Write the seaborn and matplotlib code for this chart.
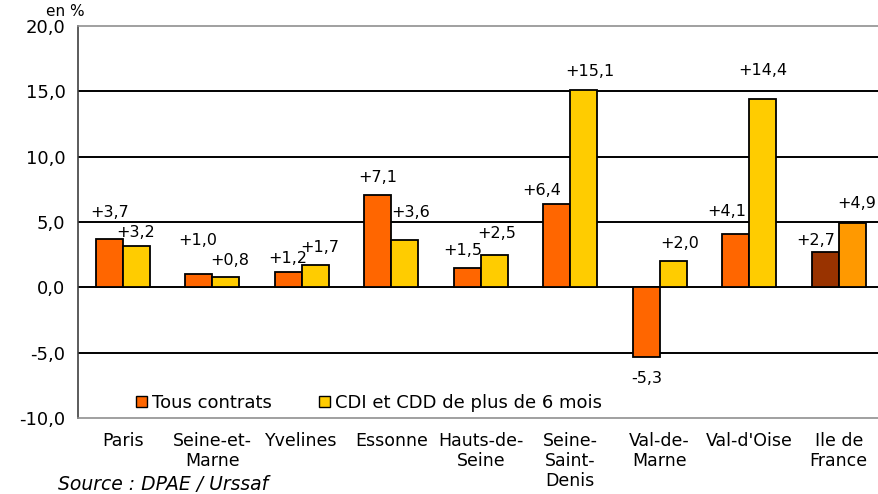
import pandas as pd
import matplotlib
matplotlib.use("Agg")
import matplotlib.pyplot as plt
import seaborn as sns
from matplotlib.patches import Patch

# données
departements = ["Paris", "Seine-et-\nMarne", "Yvelines", "Essonne", "Hauts-de-\nSeine",
                "Seine-\nSaint-\nDenis", "Val-de-\nMarne", "Val-d'Oise", "Ile de\nFrance"]
tous_contrats = [3.7, 1.0, 1.2, 7.1, 1.5, 6.4, -5.3, 4.1, 2.7]
cdi_cdd = [3.2, 0.8, 1.7, 3.6, 2.5, 15.1, 2.0, 14.4, 4.9]
series = ["Tous contrats", "CDI et CDD de plus de 6 mois"]
yticks = [-10, -5, 0, 5, 10, 15, 20]

# décalage des étiquettes (pixels, par rapport au haut de la barre)
decal_tous = [(0, 27), (-1, 34), (-1, 13), (0, 17), (-5, 17), (-15, 13), (0, -22), (-9, 22), (-10, 12)]
decal_cdi = [(-1, 13), (4, 16), (5, 18), (6, 28), (3, 21), (6, 19), (7, 18), (0, 29), (5, 20)]

df = pd.DataFrame({
    "dep": departements * 2,
    "serie": [series[0]] * len(departements) + [series[1]] * len(departements),
    "val": tous_contrats + cdi_cdd,
})

sns.set_style("white")
plt.rcParams['font.family'] = ['DejaVu Sans']
plt.rcParams['text.color'] = 'black'
plt.rcParams['xtick.color'] = 'black'
plt.rcParams['ytick.color'] = 'black'

fig = plt.figure(figsize=(8.79, 4.94), dpi=100)
ax = fig.add_axes([0.0887, 0.1538, 0.9164, 0.7935])

colors = ["#FF6600", "#FFCC00"]
sns.barplot(data=df, x="dep", y="val", hue="serie", palette=colors, width=0.6,
            edgecolor="black", linewidth=1.3, saturation=1, ax=ax, legend=False, zorder=3)

# couleurs particulières pour l'Ile de France
n = len(departements)
bars = ax.patches[:2 * n]
bars[n - 1].set_facecolor("#993300")
bars[2 * n - 1].set_facecolor("#FF9900")

# étiquettes de valeurs
for p, (dx, dy) in zip(bars, decal_tous + decal_cdi):
    h = p.get_height()
    x = p.get_x() + p.get_width() / 2
    txt = ("+" if h >= 0 else "") + f"{h:.1f}".replace(".", ",")
    ax.annotate(txt, (x, h), xytext=(dx * 0.72, dy * 0.72), textcoords="offset points",
                ha="center", va="center", fontsize=11.5, annotation_clip=False)

ax.set_ylim(-10, 20)
ax.set_xlim(-0.5, n - 0.5)
for v in [-5, 0, 5, 10, 15]:
    ax.axhline(v, color="black", lw=1.4, zorder=1)

ax.set_yticks(yticks)
ax.set_yticklabels([f"{v:.1f}".replace(".", ",") for v in yticks], fontsize=13)
ax.set_xticks(range(n))
ax.set_xticklabels(departements, fontsize=12.5, va="top", linespacing=1.15)
ax.set_xticks([i + 0.5 for i in range(n)], minor=True)
ax.tick_params(axis="x", which="major", length=0, pad=10)
ax.tick_params(axis="x", which="minor", length=5, direction="out", color="#404040")
ax.tick_params(axis="y", length=6, direction="out", color="#404040", pad=3)
ax.set_xlabel("")
ax.set_ylabel("")

ax.spines["right"].set_visible(False)
ax.spines["top"].set_color("#909090")
ax.spines["bottom"].set_color("#909090")
ax.spines["left"].set_color("#404040")
for s in ax.spines.values():
    s.set_linewidth(1.2)

handles = [Patch(facecolor=c, edgecolor="black", lw=1) for c in colors]
ax.legend(handles, series, loc="center left", bbox_to_anchor=(0.072, 0.038), ncol=2,
          frameon=False, fontsize=13, handlelength=0.6, handleheight=0.6,
          handletextpad=0.3, columnspacing=2.6, borderpad=0, borderaxespad=0)

fig.text(0.052, 0.977, "en %", fontsize=11, va="center")
fig.text(0.066, 0.02, "Source : DPAE / Urssaf", fontsize=13.5, style="italic", va="center")

fig.savefig("out.png", dpi=100)
